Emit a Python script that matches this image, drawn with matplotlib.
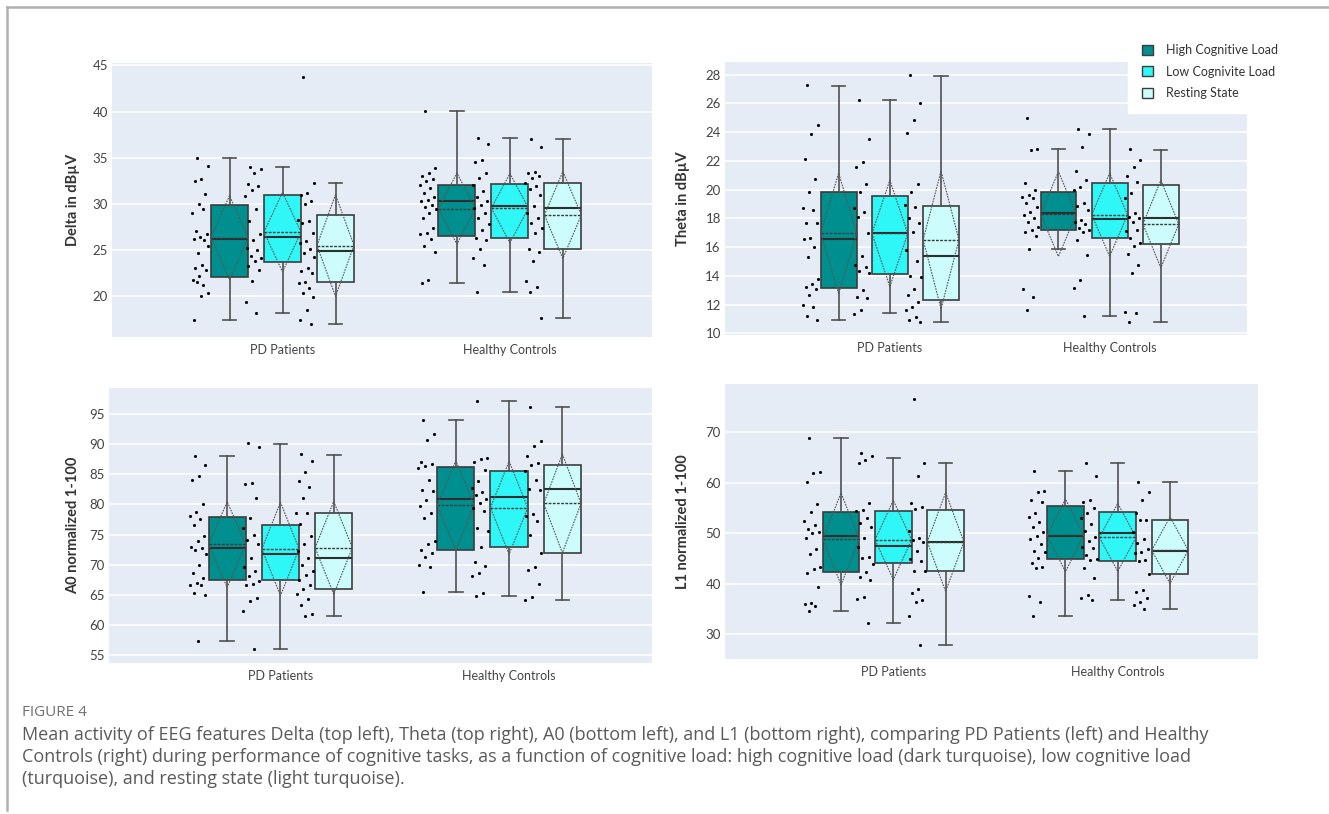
"""
Figure 4 - EEG features (Delta, Theta, A0, L1) for PD patients vs healthy
controls under three cognitive-load conditions. Box plots with mean/SD
diamonds and the individual points drawn to the left of each box.
"""

import numpy as np
import matplotlib.pyplot as plt
from matplotlib.patches import Patch
from matplotlib.lines import Line2D

W, H = 1329, 814

groups = ["PD Patients", "Healthy Controls"]
conditions = ["High Cognitive Load", "Low Cognivite Load", "Resting State"]
colors = ["#008f8f", "#2ff7f7", "#ccfcfc"]

# ---- Delta (top left), values as [group][condition] ----
delta_q1 = [[22.1, 23.7, 21.5], [26.5, 26.3, 25.1]]
delta_med = [[26.2, 26.4, 24.9], [30.35, 29.8, 29.6]]
delta_q3 = [[29.9, 31.0, 28.8], [32.1, 32.15, 32.3]]
delta_lo = [[17.4, 18.2, 17.05], [21.4, 20.5, 17.65]]
delta_hi = [[35.0, 34.0, 32.3], [40.1, 37.15, 37.05]]
delta_mean = [[26.35, 26.95, 25.5], [29.5, 29.55, 28.8]]
delta_sd = [[4.55, 4.3, 5.5], [3.85, 3.75, 4.7]]
delta_pts = [
    [[35.0, 34.1, 32.7, 32.5, 31.1, 30.0, 29.0, 29.4, 27.1, 26.7, 26.4, 26.2, 26.1,
      24.7, 25.5, 23.4, 23.1, 22.9, 22.2, 21.8, 21.2, 21.6, 20.4, 20.0, 17.4],
     [34.0, 33.8, 33.35, 32.2, 31.9, 31.5, 30.9, 29.45, 28.1, 26.75, 26.1, 25.2, 25.05,
      24.4, 24.1, 23.8, 23.3, 22.9, 21.7, 19.35, 18.2],
     [43.7, 32.3, 31.2, 31.0, 30.3, 30.0, 28.3, 28.1, 27.9, 26.9, 25.95, 25.8, 25.1,
      24.7, 24.3, 23.1, 22.7, 22.5, 21.6, 21.4, 20.9, 20.4, 19.9, 18.55, 17.4, 17.05]],
    [[40.1, 33.9, 33.35, 33.05, 32.7, 32.45, 32.1, 31.7, 31.2, 30.8, 30.45, 30.3, 29.9,
      29.7, 29.4, 29.0, 28.5, 27.4, 26.85, 26.7, 26.2, 25.5, 24.8, 21.8, 21.4],
     [37.15, 36.5, 34.8, 34.5, 33.35, 32.8, 32.1, 31.35, 30.8, 30.3, 29.9, 29.55, 29.0,
      28.5, 27.8, 27.2, 26.3, 26.1, 25.15, 24.15, 23.4, 20.5],
     [37.05, 36.2, 33.5, 33.35, 33.05, 32.8, 32.3, 31.9, 31.6, 31.0, 29.75, 29.0, 28.5,
      27.95, 27.4, 26.9, 25.1, 24.85, 23.8, 21.7, 21.0, 20.5, 17.65]],
]

# ---- Theta (top right) ----
theta_q1 = [[13.15, 14.1, 12.35], [17.2, 16.65, 16.2]]
theta_med = [[16.55, 16.95, 15.4], [18.4, 17.95, 18.05]]
theta_q3 = [[19.85, 19.55, 18.85], [19.85, 20.45, 20.3]]
theta_lo = [[10.95, 11.4, 10.8], [15.9, 11.2, 10.8]]
theta_hi = [[27.2, 26.25, 27.9], [22.8, 24.2, 22.75]]
theta_mean = [[16.95, 16.95, 16.5], [18.3, 18.25, 17.6]]
theta_sd = [[4.2, 3.7, 4.8], [2.95, 2.9, 3.05]]
theta_pts = [
    [[27.25, 24.5, 23.9, 22.15, 20.75, 19.85, 18.7, 18.6, 17.65, 17.7, 16.65, 16.55,
      16.0, 15.3, 13.75, 13.45, 13.2, 13.05, 12.65, 11.95, 11.85, 11.2, 10.95],
     [26.25, 23.55, 21.95, 21.6, 20.4, 19.8, 18.7, 18.45, 18.1, 16.95, 15.4, 14.75,
      14.6, 14.3, 14.2, 13.0, 12.55, 12.45, 11.6, 11.35],
     [27.95, 26.0, 24.85, 23.95, 20.4, 19.85, 18.9, 18.8, 18.0, 17.7, 17.05, 15.8,
      15.0, 14.0, 13.9, 13.05, 12.65, 12.2, 11.85, 11.65, 11.1, 10.95, 10.8]],
    [[25.0, 22.8, 22.75, 20.45, 19.95, 19.6, 19.5, 19.4, 19.05, 18.8, 18.45, 18.25,
      18.0, 17.75, 17.4, 17.2, 17.05, 16.75, 15.9, 13.05, 12.55, 11.65],
     [24.2, 23.9, 22.95, 21.3, 20.65, 20.2, 20.0, 19.05, 18.85, 18.55, 17.9, 17.75,
      17.6, 17.3, 17.2, 17.05, 16.5, 15.45, 13.7, 13.15, 11.2],
     [22.8, 22.05, 21.55, 20.95, 20.55, 19.75, 19.4, 18.4, 18.1, 18.05, 17.75, 17.15,
      17.2, 16.6, 16.25, 16.05, 15.5, 14.75, 14.2, 11.5, 11.4, 10.8]],
]

# ---- A0 (bottom left) ----
a0_q1 = [[67.5, 67.4, 65.9], [72.5, 72.9, 72.0]]
a0_med = [[72.7, 71.8, 71.1], [80.9, 81.2, 82.6]]
a0_q3 = [[77.9, 76.55, 78.6], [86.15, 85.6, 86.45]]
a0_lo = [[57.4, 55.95, 61.45], [65.45, 64.8, 64.2]]
a0_hi = [[88.0, 90.05, 88.25], [93.95, 97.1, 96.1]]
a0_mean = [[73.35, 72.6, 72.8], [79.85, 79.45, 80.15]]
a0_sd = [[7.1, 7.75, 7.7], [7.4, 7.7, 8.2]]
a0_pts = [
    [[88.0, 86.5, 84.7, 84.0, 80.0, 78.75, 78.05, 77.5, 76.55, 74.7, 74.0, 72.9, 72.8,
      72.4, 71.7, 70.0, 68.6, 67.8, 67.0, 66.7, 66.6, 65.35, 65.05, 57.4],
     [90.2, 89.5, 83.55, 83.3, 81.1, 77.75, 76.1, 74.85, 74.15, 73.45, 71.15, 69.6,
      68.9, 68.1, 67.25, 66.8, 66.6, 64.5, 63.95, 62.3, 55.95],
     [88.35, 87.25, 85.4, 83.95, 82.85, 81.1, 78.6, 78.6, 76.75, 74.7, 73.35, 72.25,
      71.15, 70.0, 68.9, 68.25, 67.4, 66.7, 65.9, 65.15, 64.35, 63.3, 61.85, 61.45]],
    [[94.05, 91.7, 90.75, 87.05, 86.7, 86.35, 86.05, 84.1, 82.45, 82.3, 80.8, 79.7,
      78.6, 77.75, 74.0, 73.45, 72.5, 71.95, 71.3, 70.0, 69.6, 65.45],
     [97.1, 87.7, 87.45, 87.05, 85.75, 83.85, 82.75, 82.05, 81.5, 80.95, 80.25, 79.4,
      78.85, 76.1, 75.55, 72.9, 70.45, 69.75, 68.65, 68.1, 65.35, 64.8],
     [96.1, 90.45, 89.75, 88.0, 86.9, 86.6, 85.6, 84.1, 82.6, 82.45, 78.45, 78.05,
      77.3, 75.0, 71.95, 69.6, 69.2, 66.8, 64.6, 64.2]],
]

# ---- L1 (bottom right) ----
l1_q1 = [[42.3, 44.05, 42.55], [44.9, 44.5, 41.95]]
l1_med = [[49.45, 47.5, 48.35], [49.55, 50.15, 46.55]]
l1_q3 = [[54.15, 54.5, 54.6], [55.4, 54.15, 52.65]]
l1_lo = [[34.6, 32.3, 27.9], [33.65, 36.8, 35.0]]
l1_hi = [[68.95, 65.0, 63.85], [62.35, 63.85, 60.1]]
l1_mean = [[48.9, 48.7, 48.3], [49.6, 49.2, 46.65]]
l1_sd = [[9.1, 7.85, 9.8], [7.2, 6.75, 6.6]]
l1_pts = [
    [[68.95, 62.2, 61.9, 60.1, 55.75, 54.15, 52.45, 51.65, 50.85, 50.35, 50.0, 49.0,
      46.9, 45.85, 43.4, 42.85, 42.1, 39.45, 36.15, 35.95, 35.7, 34.6],
     [65.85, 65.4, 64.5, 63.85, 55.95, 54.6, 54.4, 52.95, 52.1, 51.3, 49.15, 47.25,
      45.4, 45.05, 43.95, 42.3, 41.4, 40.75, 37.45, 37.0, 32.3],
     [76.7, 63.85, 61.4, 55.95, 55.3, 54.8, 50.45, 49.0, 48.7, 48.35, 46.55, 44.9,
      44.5, 42.55, 42.55, 39.0, 38.1, 36.8, 36.35, 33.7, 27.9]],
    [[62.35, 58.4, 58.1, 56.6, 56.15, 54.1, 53.3, 52.3, 51.3, 50.35, 49.55, 48.9,
      47.8, 46.55, 46.35, 45.2, 44.2, 43.4, 43.05, 37.65, 36.35, 33.65],
     [63.85, 61.4, 56.6, 56.25, 55.1, 53.95, 52.95, 51.8, 50.45, 49.35, 48.5, 47.35,
      47.05, 45.7, 44.9, 44.7, 43.05, 41.2, 37.8, 37.15, 36.8],
     [60.1, 58.25, 56.6, 53.95, 52.65, 52.65, 50.35, 48.9, 48.0, 46.9, 46.35, 46.05,
      44.7, 44.5, 41.95, 38.8, 38.3, 37.25, 36.45, 35.8, 35.0]],
]

caption_lines = [
    "Mean activity of EEG features Delta (top left), Theta (top right), A0 (bottom left), "
    "and L1 (bottom right), comparing PD Patients (left) and Healthy",
    "Controls (right) during performance of cognitive tasks, as a function of cognitive "
    "load: high cognitive load (dark turquoise), low cognitive load",
    "(turquoise), and resting state (light turquoise).",
]

panels = [
    dict(label="Delta in dB\u00b5V", rect=(112, 63, 652, 337), ylim=(15.6, 45.25),
         yticks=[20, 25, 30, 35, 40, 45], labx=73,
         q1=delta_q1, med=delta_med, q3=delta_q3, lo=delta_lo, hi=delta_hi,
         mean=delta_mean, sd=delta_sd, pts=delta_pts),
    dict(label="Theta in dB\u00b5V", rect=(725, 62, 1247, 335), ylim=(9.88, 28.88),
         yticks=list(range(10, 29, 2)), labx=683,
         q1=theta_q1, med=theta_med, q3=theta_q3, lo=theta_lo, hi=theta_hi,
         mean=theta_mean, sd=theta_sd, pts=theta_pts),
    dict(label="A0 normalized 1-100", rect=(109, 388, 652, 663), ylim=(53.7, 99.3),
         yticks=[55, 60, 65, 70, 75, 80, 85, 90, 95], labx=73,
         q1=a0_q1, med=a0_med, q3=a0_q3, lo=a0_lo, hi=a0_hi,
         mean=a0_mean, sd=a0_sd, pts=a0_pts),
    dict(label="L1 normalized 1-100", rect=(725, 384, 1258, 659), ylim=(25.1, 79.6),
         yticks=[30, 40, 50, 60, 70], labx=683,
         q1=l1_q1, med=l1_med, q3=l1_q3, lo=l1_lo, hi=l1_hi,
         mean=l1_mean, sd=l1_sd, pts=l1_pts),
]

SLOT = 0.233      # distance between boxes inside a group
BOX_W = 0.163
CAP_W = 0.06
PT_OFF = -0.127   # points sit left of each box
PT_SPREAD = 0.038

FONT = ["Lato", "DejaVu Sans"]
TICK_COLOR = "#444444"


def draw_panel(fig, p):
    l, t, r, b = p["rect"]
    ax = fig.add_axes([l / W, 1 - b / H, (r - l) / W, (b - t) / H])
    ax.set_facecolor("#e5ecf6")
    for s in ax.spines.values():
        s.set_visible(False)
    ax.set_axisbelow(True)
    ax.grid(axis="y", color="white", linewidth=1.1)
    ax.set_xlim(-0.75, 1.625)
    ax.set_ylim(*p["ylim"])
    ax.set_yticks(p["yticks"])
    ax.set_xticks([0, 1])
    ax.set_xticklabels(groups, fontfamily=FONT, fontsize=9, color=TICK_COLOR)
    for lab in ax.get_yticklabels():
        lab.set_fontfamily(FONT)
        lab.set_fontsize(9.5)
        lab.set_color(TICK_COLOR)
    ax.tick_params(axis="both", length=0)
    ax.tick_params(axis="y", pad=3)
    ax.tick_params(axis="x", pad=5)

    for g in range(2):
        for c in range(3):
            pos = g + (c - 1) * SLOT
            m = p["mean"][g][c]
            sd = p["sd"][g][c]
            stats = [dict(med=p["med"][g][c], q1=p["q1"][g][c], q3=p["q3"][g][c],
                          whislo=p["lo"][g][c], whishi=p["hi"][g][c],
                          mean=m, fliers=[])]
            ax.bxp(stats, positions=[pos], widths=BOX_W, capwidths=CAP_W,
                   patch_artist=True, showmeans=True, meanline=True,
                   showfliers=False, manage_ticks=False,
                   boxprops=dict(facecolor=colors[c], edgecolor="#3c3c3c",
                                 linewidth=1.2),
                   medianprops=dict(color="#2e2e2e", linewidth=1.5),
                   meanprops=dict(color="#3a3a3a", linestyle=(0, (2, 1)),
                                  linewidth=1.0),
                   whiskerprops=dict(color="#505050", linewidth=1.2),
                   capprops=dict(color="#505050", linewidth=1.2))
            # mean +/- sd diamond
            xs = [pos - BOX_W / 2, pos, pos + BOX_W / 2, pos, pos - BOX_W / 2]
            ys = [m, m + sd, m, m - sd, m]
            ax.plot(xs, ys, color="#555555", linewidth=0.8,
                    linestyle=(0, (1.5, 1)), zorder=4)

            vals = np.array(p["pts"][g][c])
            idx = np.arange(len(vals))
            jitter = ((idx * 0.618034 + 0.3) % 1.0) * 2 - 1
            ax.scatter(pos + PT_OFF + jitter * PT_SPREAD, vals, s=5,
                       color="black", linewidths=0, zorder=5)

    fig.text(p["labx"] / W, 1 - (t + b) / 2 / H, p["label"], rotation=90,
             ha="center", va="center", fontsize=10.5, fontweight="bold",
             fontfamily=FONT, color="#333333")
    return ax


def main():
    fig = plt.figure(figsize=(W / 100, H / 100), dpi=100)
    fig.patch.set_facecolor("white")

    for p in panels:
        draw_panel(fig, p)

    handles = [Patch(facecolor=col, edgecolor="#3c3c3c", linewidth=1.0)
               for col in colors]
    leg = fig.legend(handles, conditions, loc="upper left",
                     bbox_to_anchor=(1128 / W, 1 - 30 / H),
                     frameon=True, fancybox=False, framealpha=1.0,
                     prop=dict(family=FONT, size=9),
                     handlelength=0.85, handleheight=0.85, handletextpad=1.0,
                     labelspacing=0.74, borderpad=1.15, borderaxespad=0)
    leg.get_frame().set_facecolor("white")
    leg.get_frame().set_edgecolor("white")
    for txt in leg.get_texts():
        txt.set_color("#333333")

    # page border lines
    fig.add_artist(Line2D([7 / W, 1.0], [1 - 7 / H, 1 - 7 / H], color="#b0b0b0",
                          linewidth=1.8))
    fig.add_artist(Line2D([7 / W, 7 / W], [1 - 7 / H, 1 - 810 / H], color="#b0b0b0",
                          linewidth=1.8))

    cap_font = ["Open Sans", "DejaVu Sans"]
    fig.text(22 / W, 1 - 712 / H, "FIGURE 4", ha="left", va="center",
             fontsize=11, fontfamily=cap_font, color="#707070")
    for i, line in enumerate(caption_lines):
        fig.text(22 / W, 1 - (735 + 22 * i) / H, line, ha="left", va="center",
                 fontsize=13, fontfamily=cap_font, color="#5a5a5a")

    fig.savefig("out.png", dpi=100, facecolor="white")
    plt.close(fig)


if __name__ == "__main__":
    main()
